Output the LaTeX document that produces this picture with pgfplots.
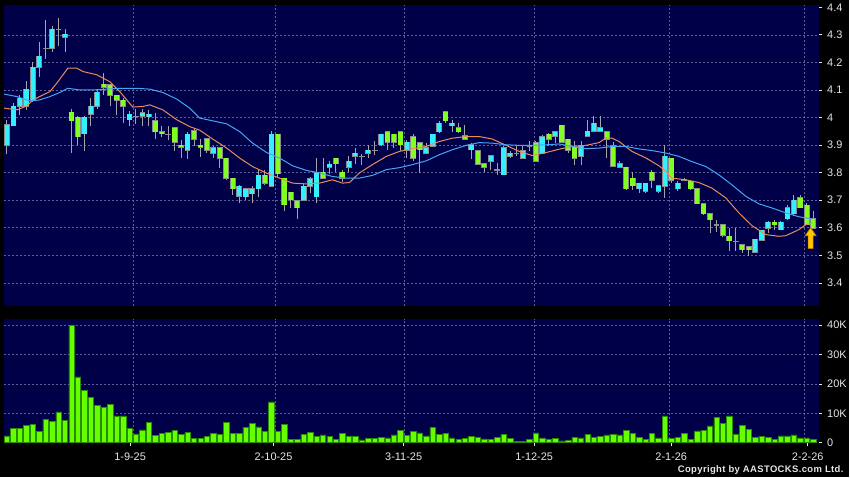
\documentclass[border=0pt]{standalone}
\usepackage{pgfplots}
\pgfplotsset{compat=1.18}
\usepackage{pgfplotstable}
\usepackage{fontspec}
\setmainfont{Liberation Sans}
\definecolor{navy}{RGB}{0,0,72}
\definecolor{gridc}{RGB}{95,95,150}
\definecolor{upc}{RGB}{51,240,255}
\definecolor{dnc}{RGB}{128,255,32}
\definecolor{edgec}{RGB}{140,140,140}
\definecolor{wickc}{RGB}{165,165,165}
\definecolor{maA}{RGB}{232,140,90}
\definecolor{maB}{RGB}{70,165,245}
\definecolor{volc}{RGB}{102,255,0}
\definecolor{voledge}{RGB}{40,140,0}
\definecolor{labc}{RGB}{230,230,230}
\definecolor{arrf}{RGB}{255,200,0}
\definecolor{arre}{RGB}{190,120,0}

\pgfplotstableread{
x o h l c
0 3.899 3.992 3.868 3.974
1 3.971 4.052 3.970 4.040
2 4.040 4.082 4.010 4.070
3 4.040 4.133 4.028 4.103
4 4.062 4.202 4.058 4.182
5 4.183 4.273 4.148 4.222
6 4.251 4.354 4.211 4.251
7 4.251 4.332 4.239 4.320
8 4.320 4.361 4.260 4.320
9 4.291 4.320 4.239 4.302
12 3.941 4.004 3.880 4.001
13 4.012 4.070 3.970 4.040
14 4.040 4.104 4.030 4.092
19 3.992 4.022 3.971 4.012
20 4.004 4.030 3.977 4.004
21 4.004 4.031 3.970 4.018
22 4.003 4.028 3.968 4.012
25 3.939 3.970 3.917 3.939
28 3.882 3.948 3.851 3.939
32 3.871 3.897 3.852 3.890
36 3.714 3.756 3.690 3.750
37 3.712 3.741 3.699 3.741
38 3.724 3.753 3.690 3.741
39 3.741 3.809 3.713 3.791
41 3.751 3.950 3.749 3.940
46 3.700 3.760 3.698 3.750
47 3.750 3.783 3.726 3.778
48 3.712 3.853 3.690 3.800
50 3.820 3.841 3.795 3.831
53 3.820 3.859 3.802 3.842
54 3.859 3.891 3.831 3.871
55 3.860 3.866 3.829 3.860
56 3.871 3.901 3.853 3.881
57 3.882 3.913 3.865 3.882
58 3.901 3.940 3.895 3.940
62 3.882 3.919 3.853 3.911
65 3.871 3.907 3.871 3.891
66 3.895 3.940 3.895 3.940
67 3.949 3.989 3.943 3.980
69 3.971 3.992 3.949 3.980
72 3.883 3.907 3.849 3.901
75 3.841 3.865 3.808 3.861
76 3.811 3.835 3.792 3.811
77 3.792 3.895 3.790 3.891
78 3.859 3.877 3.853 3.871
79 3.871 3.895 3.859 3.871
80 3.853 3.895 3.849 3.880
81 3.895 3.913 3.877 3.895
83 3.871 3.937 3.868 3.931
85 3.933 3.952 3.909 3.949
89 3.859 3.913 3.829 3.897
90 3.932 3.992 3.931 3.950
91 3.951 4.004 3.949 3.980
92 3.951 4.004 3.949 3.963
95 3.820 3.841 3.817 3.832
98 3.742 3.762 3.726 3.762
99 3.732 3.762 3.726 3.762
101 3.732 3.756 3.726 3.753
102 3.750 3.901 3.708 3.859
104 3.741 3.768 3.732 3.762
105 3.774 3.780 3.768 3.774
110 3.611 3.629 3.583 3.611
113 3.551 3.599 3.515 3.551
116 3.512 3.559 3.509 3.559
117 3.554 3.591 3.551 3.591
118 3.599 3.623 3.581 3.620
120 3.593 3.623 3.591 3.620
121 3.633 3.684 3.629 3.672
122 3.651 3.720 3.647 3.699
}\upt

\pgfplotstableread{
x o h l c
10 4.019 4.031 3.870 3.989
11 4.001 4.004 3.899 3.931
15 4.120 4.162 4.082 4.109
16 4.118 4.118 4.040 4.080
17 4.080 4.080 4.010 4.062
18 4.062 4.072 3.980 4.040
23 3.989 4.018 3.922 3.949
24 3.949 3.970 3.931 3.941
26 3.962 3.962 3.880 3.911
27 3.899 3.919 3.853 3.892
29 3.951 3.957 3.895 3.922
30 3.899 3.921 3.858 3.893
31 3.922 3.925 3.871 3.882
33 3.890 3.892 3.817 3.853
34 3.853 3.853 3.774 3.780
35 3.780 3.780 3.720 3.742
40 3.791 3.808 3.756 3.762
42 3.940 3.940 3.785 3.796
43 3.779 3.779 3.659 3.684
44 3.729 3.729 3.672 3.702
45 3.698 3.698 3.633 3.672
49 3.801 3.853 3.780 3.780
51 3.853 3.853 3.801 3.832
52 3.801 3.811 3.766 3.780
59 3.949 3.949 3.883 3.911
60 3.940 3.940 3.890 3.911
61 3.949 3.949 3.879 3.901
63 3.931 3.940 3.841 3.853
64 3.909 3.909 3.800 3.883
68 4.020 4.020 3.980 3.989
70 3.962 3.980 3.943 3.949
71 3.934 3.973 3.919 3.922
73 3.880 3.880 3.829 3.831
74 3.832 3.835 3.801 3.820
82 3.909 3.913 3.838 3.841
84 3.940 3.943 3.895 3.922
86 3.972 3.972 3.909 3.911
87 3.921 3.921 3.871 3.881
88 3.892 3.913 3.829 3.853
93 3.949 3.949 3.853 3.922
94 3.897 3.912 3.821 3.823
96 3.820 3.820 3.738 3.742
97 3.780 3.804 3.738 3.753
100 3.802 3.811 3.744 3.772
103 3.853 3.853 3.762 3.772
106 3.768 3.774 3.738 3.741
107 3.741 3.741 3.687 3.687
108 3.687 3.687 3.647 3.651
109 3.651 3.651 3.581 3.629
111 3.611 3.611 3.568 3.572
112 3.569 3.599 3.515 3.553
114 3.539 3.539 3.509 3.521
115 3.531 3.531 3.496 3.521
119 3.620 3.629 3.593 3.611
123 3.708 3.720 3.672 3.672
124 3.681 3.691 3.611 3.611
125 3.632 3.659 3.599 3.599
}\dnt

\pgfplotstableread{
x y
-0.46 4.034
1.55 4.028
3.10 4.042
4.02 4.064
5.57 4.082
6.66 4.094
7.74 4.125
9.44 4.179
10.84 4.179
11.76 4.167
13.93 4.155
15.94 4.130
17.49 4.094
19.50 4.038
21.05 4.040
22.14 4.046
24.15 4.028
26.32 3.992
28.33 3.967
29.88 3.954
31.89 3.922
34.06 3.889
36.07 3.853
38.08 3.822
40.25 3.798
42.26 3.780
44.27 3.762
46.44 3.759
48.45 3.762
50.46 3.774
52.01 3.762
53.10 3.764
54.64 3.799
56.66 3.829
58.82 3.859
60.84 3.877
62.85 3.887
65.02 3.895
67.03 3.913
69.04 3.925
71.21 3.931
73.22 3.931
75.23 3.922
77.40 3.899
79.41 3.877
81.42 3.862
83.59 3.873
85.60 3.885
87.62 3.895
89.78 3.899
91.80 3.909
92.88 3.926
93.81 3.925
94.89 3.913
96.90 3.877
99.07 3.853
101.08 3.825
102.17 3.804
103.10 3.780
105.26 3.774
107.28 3.764
109.29 3.744
111.46 3.708
113.47 3.654
115.48 3.608
117.65 3.575
119.66 3.569
120.74 3.571
122.76 3.593
123.84 3.611
124.77 3.617
}\maten

\pgfplotstableread{
x y
-0.46 4.085
1.55 4.076
3.56 4.060
5.11 4.064
6.66 4.076
8.20 4.091
9.44 4.106
11.30 4.100
13.31 4.100
15.48 4.103
17.49 4.106
20.12 4.106
22.14 4.103
24.15 4.091
26.32 4.067
28.33 4.034
29.88 3.998
31.89 3.988
34.06 3.977
36.07 3.949
38.08 3.907
40.25 3.873
42.26 3.853
44.27 3.825
46.44 3.808
48.45 3.799
50.46 3.786
52.63 3.780
54.64 3.780
56.66 3.790
58.82 3.811
60.84 3.818
62.85 3.829
65.02 3.843
67.03 3.865
69.04 3.883
71.21 3.899
73.22 3.909
75.23 3.907
77.40 3.901
79.41 3.899
81.42 3.899
83.59 3.901
85.60 3.904
87.62 3.895
89.78 3.887
91.80 3.889
93.81 3.895
95.98 3.895
97.99 3.886
100.00 3.880
102.17 3.871
104.18 3.859
106.19 3.840
108.36 3.822
110.37 3.792
112.38 3.756
114.55 3.714
116.56 3.687
118.58 3.672
120.74 3.654
122.76 3.640
124.77 3.632
}\matwenty

\pgfplotstableread{
x v
0 2.27
1 4.76
2 4.76
3 5.9
4 6.2
5 3.85
6 7.9
7 7.25
8 10.5
9 7.6
10 40.0
11 22.4
12 17.8
13 15.3
14 12.6
15 11.9
16 13.0
17 9.1
18 9.1
19 4.76
20 2.95
21 4.3
22 6.8
23 2.5
24 3.2
25 3.5
26 4.2
27 2.7
28 3.5
29 1.5
30 1.5
31 2.15
32 3.06
33 2.8
34 7.0
35 3.2
36 3.2
37 5.3
38 6.5
39 5.4
40 3.85
41 13.9
42 3.85
43 6.1
44 1.0
45 1.0
46 2.7
47 3.6
48 2.0
49 2.6
50 2.0
51 1.1
52 3.2
53 2.15
54 2.15
55 0.9
56 1.5
57 1.5
58 1.7
59 1.6
60 2.6
61 4.1
62 2.4
63 3.85
64 3.3
65 2.3
66 5.1
67 2.7
68 3.2
69 1.6
70 1.1
71 1.5
72 2.15
73 1.9
74 1.25
75 1.1
76 1.7
77 2.8
78 1.5
79 0.34
80 0.34
81 1.0
82 3.3
83 1.6
84 1.1
85 1.36
86 0.57
87 0.68
88 1.8
89 1.6
90 2.8
91 1.7
92 2.15
93 2.6
94 2.8
95 2.6
96 4.2
97 3.06
98 1.8
99 1.1
100 3.2
101 1.6
102 9.1
103 1.36
104 1.9
105 3.2
106 1.1
107 4.0
108 4.2
109 5.7
110 8.5
111 6.5
112 9.1
113 2.8
114 5.9
115 4.5
116 1.9
117 2.15
118 1.9
119 1.1
120 2.3
121 2.3
122 2.6
123 1.6
124 1.6
125 1.0
}\volt

\pgfplotsset{
  panel/.style={
    scale only axis, anchor=north west, width=816bp,
    xmin=-0.46, xmax=125.85,
    axis background/.style={fill=navy},
    axis line style={draw=none},
    grid=major,
    major grid style={draw=gridc, dash pattern=on 2bp off 2bp, line width=0.6bp},
    ytick pos=right, tick align=outside, major tick length=3bp,
    ytick style={draw=labc, line width=0.7bp},
    tick label style={font=\fontsize{11}{13}\selectfont, text=labc},
    yticklabel style={xshift=2bp},
    /pgf/number format/assume math mode=true,
  },
  wick/.style={mark=none, draw=none, forget plot,
    error bars/.cd, y dir=both, y explicit, error mark=none,
    error bar style={draw=wickc, line width=1bp, solid}},
  edge/.style={mark=none, draw=none, forget plot,
    error bars/.cd, y dir=both, y explicit, error mark=none,
    error bar style={draw=edgec, line width=5.8bp, solid}},
  body/.style={mark=none, draw=none, forget plot,
    error bars/.cd, y dir=both, y explicit, error mark=none,
    error bar style={draw=#1, line width=4.4bp, solid}},
}

\begin{document}
\begin{tikzpicture}
\fill[black] (0,0) rectangle (850bp,-478bp);
\begin{axis}[panel,
  at={(4bp,-5bp)}, height=301bp,
  ymin=3.3178, ymax=4.4083,
  xtick={19.55,41.53,61.66,81.69,102.74,123.68}, xticklabels={},
  xtick style={draw=none},
  ytick={3.4,3.5,3.6,3.7,3.8,3.9,4,4.1,4.2,4.3},
  yticklabels={3.4,3.5,3.6,3.7,3.8,3.9,4,4.1,4.2,4.3},
  extra y ticks={4.4}, extra y tick labels={4.4},
  extra y tick style={grid=none},
]
\addplot[wick] table[x=x, y expr={(\thisrow{h}+\thisrow{l})/2}, y error expr={(\thisrow{h}-\thisrow{l})/2}] {\upt};
\addplot[wick] table[x=x, y expr={(\thisrow{h}+\thisrow{l})/2}, y error expr={(\thisrow{h}-\thisrow{l})/2}] {\dnt};
\addplot[edge] table[x=x, y expr={(\thisrow{o}+\thisrow{c})/2}, y error expr={abs(\thisrow{c}-\thisrow{o})/2+0.0019}] {\upt};
\addplot[edge] table[x=x, y expr={(\thisrow{o}+\thisrow{c})/2}, y error expr={abs(\thisrow{c}-\thisrow{o})/2+0.0019}] {\dnt};
\addplot[body=upc] table[x=x, y expr={(\thisrow{o}+\thisrow{c})/2}, y error expr={abs(\thisrow{c}-\thisrow{o})/2}] {\upt};
\addplot[body=dnc] table[x=x, y expr={(\thisrow{o}+\thisrow{c})/2}, y error expr={abs(\thisrow{c}-\thisrow{o})/2}] {\dnt};
\addplot[maA, line width=1bp, mark=none] table[x=x, y=y] {\maten};
\addplot[maB, line width=1bp, mark=none] table[x=x, y=y] {\matwenty};
\addplot[fill=arrf, draw=arre, line width=0.6bp, mark=none] coordinates {
  (124.6,3.600) (125.45,3.571) (124.99,3.571) (124.99,3.524)
  (124.21,3.524) (124.21,3.571) (123.75,3.571) (124.6,3.600)};
\end{axis}
\begin{axis}[panel,
  at={(4bp,-319bp)}, height=125bp,
  ymin=-0.24, ymax=42.28,
  xtick={19.55,41.53,61.66,81.69,102.74,123.68}, xticklabels={},
  xtick style={draw=none},
  extra x ticks={19.09,41.33,61.5,81.73,102.99,124.15},
  extra x tick labels={1-9-25,2-10-25,3-11-25,1-12-25,2-1-26,2-2-26},
  extra x tick style={grid=none, xtick style={draw=labc, line width=0.7bp},
    xticklabel style={yshift=-3bp}},
  xtick pos=bottom,
  ytick={10,20,30,40}, yticklabels={10K,20K,30K,40K},
  extra y ticks={0}, extra y tick labels={0},
  extra y tick style={grid=none},
]
\addplot[ybar, bar width=5.4bp, bar shift=0pt, fill=volc, draw=voledge, line width=0.5bp] table[x=x, y=v] {\volt};
\end{axis}
\node[anchor=east, text=labc, font=\bfseries\fontsize{9.5}{11}\selectfont, inner sep=0pt] at (845bp,-471bp) {\addfontfeatures{LetterSpace=4}Copyright by AASTOCKS.com Ltd.};
\end{tikzpicture}
\end{document}
